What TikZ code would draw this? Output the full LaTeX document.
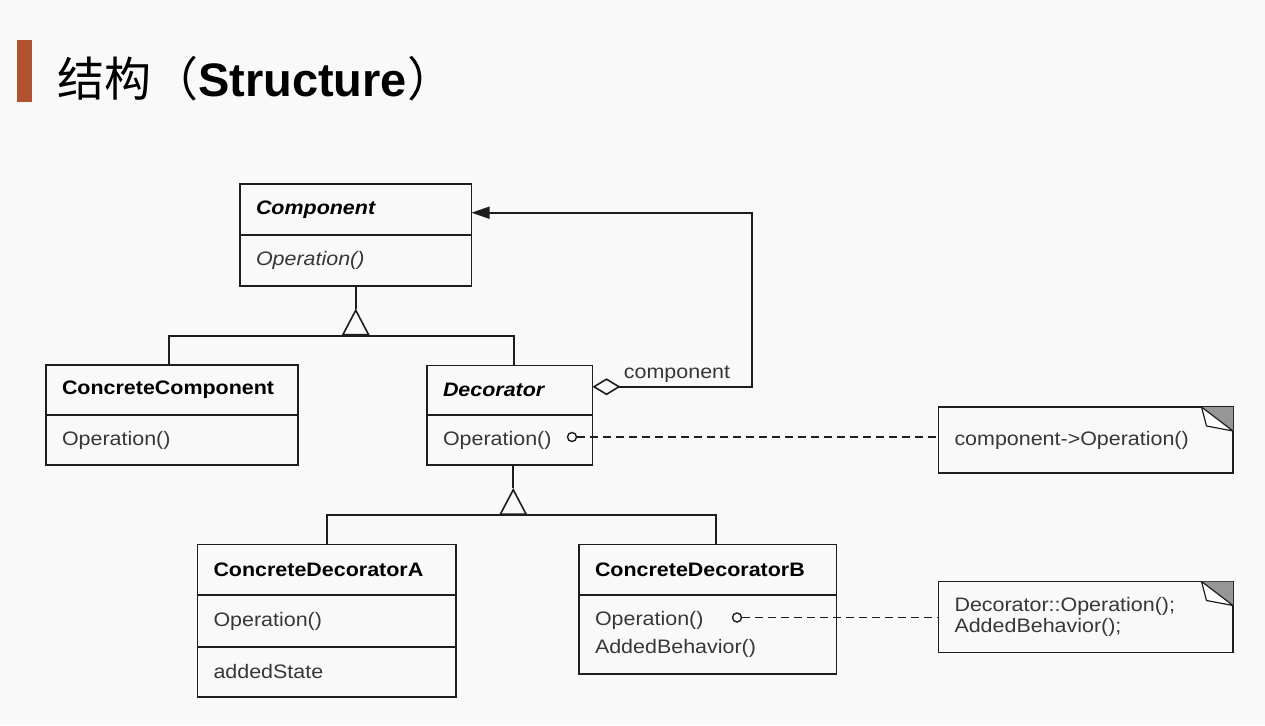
\documentclass[tikz,border=0pt]{standalone}
\usepackage{fontspec}
\setmainfont{Liberation Sans}
\newfontfamily\diagfont{Liberation Sans}[FakeStretch=1.1]
\newfontfamily\cjkfont{Noto Sans CJK SC}
\usetikzlibrary{positioning,arrows.meta}
\definecolor{titlebar}{RGB}{178,82,48}
\definecolor{bg}{RGB}{249,249,249}
\definecolor{ink}{RGB}{30,30,30}
\definecolor{txt}{RGB}{55,55,55}
\definecolor{fold}{RGB}{150,150,150}
\tikzset{
  cls/.style={draw=ink, line width=1.6pt, outer sep=0pt, inner xsep=16pt, inner ysep=0pt,
    align=left, text width=#1, text=txt, font=\diagfont\fontsize{19.5}{28.3}\selectfont},
  head/.style={text=black},
  note/.style={cls=#1, font=\diagfont\fontsize{19.5}{21.6}\selectfont},
  link/.style={draw=ink, line width=1.6pt},
  gen/.style={link, -{Triangle[open, length=27pt, width=28pt]}},
  dep/.style={link, dash pattern=on 8pt off 5pt},
  dot/.style={circle, draw=ink, line width=1.4pt, fill=bg, inner sep=0pt, minimum size=9pt},
}

\begin{document}
\begin{tikzpicture}[x=1pt, y=-1pt]
    \path[fill=bg, use as bounding box] (0,0) rectangle (1265,725);

    \node[fill=titlebar, inner sep=0pt, minimum width=14.5pt, minimum height=62pt, anchor=north west] (bar) at (17,39.5) {};
    \node[anchor=base west, inner sep=0pt, font=\fontsize{47}{50}\selectfont] (title) at (57,96.5)
      {{\cjkfont 结构（}\textbf{Structure}{\cjkfont ）}};

    \node[cls=199.5pt, head, minimum height=51pt, anchor=north west] (comp) at (240,184) {\bfseries\itshape Component};
    \node[cls=199.5pt, minimum height=51pt, below=0pt of comp] (compop) {\itshape Operation()};

    \node[cls=220pt, head, minimum height=50pt, anchor=north west] (ccomp) at (46,365) {\bfseries ConcreteComponent};
    \node[cls=220pt, minimum height=50pt, below=0pt of ccomp] (ccompop) {Operation()};

    \node[cls=133.5pt, head, minimum height=49.5pt, anchor=north west] (dec) at (427,365.5) {\bfseries\itshape Decorator};
    \node[cls=133.5pt, minimum height=50pt, below=0pt of dec] (decop) {Operation()};

    \node[cls=226.5pt, head, minimum height=50.5pt, anchor=north west] (cda) at (197.5,544.5) {\bfseries ConcreteDecoratorA};
    \node[cls=226.5pt, minimum height=52pt, below=0pt of cda] (cdaop) {Operation()};
    \node[cls=226.5pt, minimum height=50pt, below=0pt of cdaop] (cdast) {addedState};

    \node[cls=225.5pt, head, minimum height=50.5pt, anchor=north west] (cdb) at (579,544.5) {\bfseries ConcreteDecoratorB};
    \node[cls=225.5pt, minimum height=79pt, below=0pt of cdb] (cdbop) {Operation()\\AddedBehavior()};

    \node[note=262.5pt, minimum height=66pt, anchor=north west] (n1) at (938.5,407) {component->Operation()};
    \node[note=262.5pt, minimum height=71pt, anchor=north west] (n2) at (938.5,581.5) {Decorator::Operation();\\AddedBehavior();};

    \foreach \n in {n1,n2}{
      \fill[fold] ([xshift=-31.5pt]\n.north east) -- (\n.north east) -- ([yshift=-24pt]\n.north east) -- cycle;
      \draw[ink, line width=1.2pt, fill=white, line join=round] ([xshift=-31.5pt]\n.north east) -- ++(5,19) -- ([yshift=-24pt]\n.north east) -- cycle;
    }

    \path (compop.south) ++(0,22.5) coordinate (gen1) ++(0,27.5) coordinate (bar1);
    \draw[link] (compop.south) -- (gen1);
    \draw[gen] (bar1) -- (gen1);
    \draw[link] ([xshift=-3pt]ccomp.north) |- (bar1) -| ([xshift=4pt]dec.north);

    \path ([xshift=3.5pt]decop.south) ++(0,23) coordinate (gen2) ++(0,27) coordinate (bar2);
    \draw[link] ([xshift=3.5pt]decop.south) -- (gen2);
    \draw[gen] (bar2) -- (gen2);
    \draw[link] (cda.north) |- (bar2) -| ([xshift=8pt]cdb.north);

    \draw[link, {Diamond[open, length=28pt, width=17pt]}-{Triangle[length=18pt, width=12pt]}]
      ([yshift=3.5pt]dec.east) -- node[pos=0.53, above=0pt, text=txt, font=\diagfont\fontsize{19.5}{22}\selectfont] (rolename) {component}
      ++(159.5,0) |- ([yshift=-3.2pt]comp.east);

    \node[dot] (d1) at (572,437) {};
    \node[dot] (d2) at (737,617.5) {};
    \draw[dep] (d1) -- (d1 -| n1.west);
    \draw[dep] (d2) -- (d2 -| n2.west);
\end{tikzpicture}
\end{document}
